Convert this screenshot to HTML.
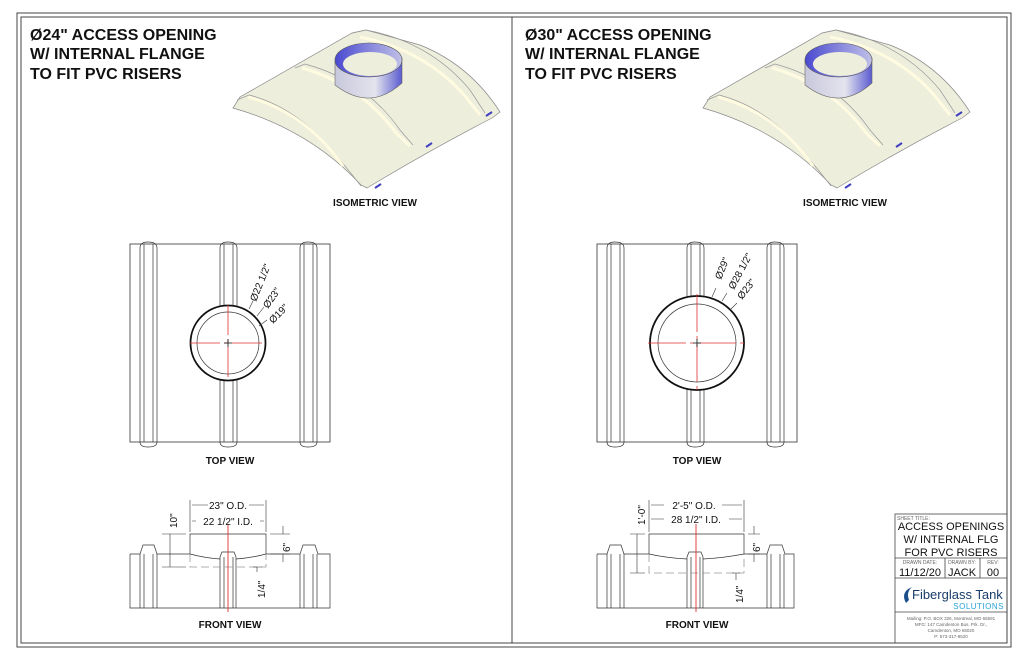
<!DOCTYPE html>
<html><head><meta charset="utf-8"><style>
html,body{margin:0;padding:0;background:#fff}
svg{display:block}
text{font-family:"Liberation Sans",Arial,sans-serif}
</style></head><body>
<svg width="1024" height="663" viewBox="0 0 1024 663" xmlns="http://www.w3.org/2000/svg">
<defs>
<linearGradient id="cyl" x1="0" x2="1" y1="0" y2="0">
<stop offset="0" stop-color="#c8c8dc"/><stop offset="0.6" stop-color="#e4e4ee"/><stop offset="1" stop-color="#5a5ad0"/>
</linearGradient>
<linearGradient id="cylin" x1="0" x2="1"><stop offset="0" stop-color="#4a4ad0"/><stop offset="1" stop-color="#c0c0e8"/></linearGradient>
<g id="iso">
<path d="M233,108 L240,97 L352,33 L366,30 L420,45 Q470,65 500,112 L492,118 Q430,150 367,188 L361,185 Q310,130 233,108 Z" fill="#eeeedd" stroke="#888" stroke-width="0.7"/>
<path d="M237,100 L249,95 Q300,108 340,160 Q350,172 361,186" fill="none" stroke="#999" stroke-width="0.7"/>
<path d="M248,97 Q305,112 343,166" fill="none" stroke="#fffbe0" stroke-width="3"/>
<path d="M295,68 L305,64 Q365,80 400,130 L413,145" fill="none" stroke="#999" stroke-width="0.7"/>
<path d="M302,68 Q360,84 397,134 L410,146" fill="none" stroke="#fffbe0" stroke-width="3"/>
<path d="M352,33 L366,30 Q430,42 470,90 L485,113" fill="none" stroke="#999" stroke-width="0.7"/>
<path d="M360,37 Q425,50 465,96 L480,115" fill="none" stroke="#fffbe0" stroke-width="3"/>
<path d="M335,60 L335,85 Q370,112 402,83 L402,58 Z" fill="url(#cyl)" stroke="#666" stroke-width="0.6"/>
<ellipse cx="368.5" cy="60" rx="33.5" ry="17" fill="url(#cylin)" stroke="#555" stroke-width="0.6"/>
<ellipse cx="370" cy="64" rx="27" ry="12" fill="#eeeedd"/>
<path d="M375,188 l6,-4 M426,147 l6,-4 M486,116 l6,-4" stroke="#4040c0" stroke-width="2"/>
</g>
<g id="top">
<rect x="130" y="244" width="200" height="198" fill="none" stroke="#333" stroke-width="0.8"/>
<g fill="none" stroke="#333" stroke-width="0.7">
<path d="M140,442 V248 Q140,242 148,242 Q157,242 157,248 V442 M144,244 V442 M153,244 V442"/>
<path d="M220,442 V248 Q220,242 228,242 Q237,242 237,248 V442 M224,244 V442 M233,244 V442"/>
<path d="M300,442 V248 Q300,242 308,242 Q317,242 317,248 V442 M304,244 V442 M313,244 V442"/>
<path d="M140,442 Q140,447 148,447 Q157,447 157,442 M220,442 Q220,447 228,447 Q237,447 237,442 M300,442 Q300,447 308,447 Q317,447 317,442"/>
</g>
</g>
<g id="front">
<g fill="none" stroke="#333" stroke-width="0.7">
<path d="M130,554 V608 H330 V554 H318 L315,545 H303 L300,554 M130,554 H140 L143,545 H154 L157,554 H190"/>
<path d="M140,554 V608 M144,554 V608 M153,554 V608 M157,554 V608 M300,554 V608 M304,554 V608 M313,554 V608 M317,554 V608"/>
<path d="M220,608 V557 L222,552 H234 L236,557 V608 M224,557 V608 M233,557 V608"/>
<path d="M190,554 V534 H266 V554"/>
<path d="M190,554 Q205,558 220,559 M236,559 Q251,558 266,554 H300"/>
</g>
<path d="M190,554 V567 H266 V554" fill="none" stroke="#999" stroke-dasharray="8,4" stroke-width="0.8"/>
</g>
</defs>

<!-- frame -->
<rect x="17" y="13" width="994" height="634" fill="none" stroke="#444" stroke-width="1"/>
<rect x="21" y="17" width="986" height="626" fill="none" stroke="#444" stroke-width="1"/>
<line x1="512" y1="17" x2="512" y2="643" stroke="#444" stroke-width="1"/>

<!-- titles -->
<g font-weight="bold" font-size="16" fill="#111">
<text x="30" y="40">Ø24" ACCESS OPENING</text>
<text x="30" y="59">W/ INTERNAL FLANGE</text>
<text x="30" y="79">TO FIT PVC RISERS</text>
<text x="525" y="40">Ø30" ACCESS OPENING</text>
<text x="525" y="59">W/ INTERNAL FLANGE</text>
<text x="525" y="79">TO FIT PVC RISERS</text>
</g>
<g font-weight="bold" font-size="10" fill="#111" text-anchor="middle">
<text x="375" y="206">ISOMETRIC VIEW</text>
<text x="845" y="206">ISOMETRIC VIEW</text>
<text x="230" y="464">TOP VIEW</text>
<text x="697" y="464">TOP VIEW</text>
<text x="230" y="628">FRONT VIEW</text>
<text x="697" y="628">FRONT VIEW</text>
</g>

<use href="#iso"/>
<use href="#iso" transform="translate(470,0)"/>

<!-- LEFT top view -->
<use href="#top"/>
<circle cx="228" cy="343" r="37.5" fill="#fff" stroke="#111" stroke-width="1.8"/>
<circle cx="228" cy="343" r="31" fill="none" stroke="#333" stroke-width="0.7"/>
<path d="M190,343 H266 M228,305 V381" stroke="#e03030" stroke-width="0.8" stroke-dasharray="30,4,4,4"/>
<path d="M224,343 h8 M228,339 v8" stroke="#111" stroke-width="0.8"/>
<path d="M249,309 l4,-8 M257,316 l7,-9 M259,326 l8,-6" stroke="#333" stroke-width="0.6"/>
<g font-size="10" fill="#111">
<text transform="translate(256,302) rotate(-68)">Ø22 1/2"</text>
<text transform="translate(268,309) rotate(-55)">Ø23"</text>
<text transform="translate(273,324) rotate(-45)">Ø19"</text>
</g>

<!-- RIGHT top view -->
<use href="#top" transform="translate(467,0)"/>
<circle cx="697" cy="343" r="47" fill="#fff" stroke="#111" stroke-width="1.8"/>
<circle cx="697" cy="343" r="39" fill="none" stroke="#333" stroke-width="0.7"/>
<path d="M648,343 H746 M697,294 V392" stroke="#e03030" stroke-width="0.8" stroke-dasharray="38,4,4,4"/>
<path d="M693,343 h8 M697,339 v8" stroke="#111" stroke-width="0.8"/>
<path d="M712,297 l4,-9 M722,301 l5,-8 M730,310 l7,-7" stroke="#333" stroke-width="0.6"/>
<g font-size="10" fill="#111">
<text transform="translate(721,280) rotate(-68)">Ø29"</text>
<text transform="translate(734,290) rotate(-62)">Ø28 1/2"</text>
<text transform="translate(742,300) rotate(-52)">Ø23"</text>
</g>

<!-- LEFT front view -->
<use href="#front"/>
<line x1="228" y1="524" x2="228" y2="612" stroke="#e03030" stroke-width="0.9"/>
<g stroke="#333" stroke-width="0.6" fill="none">
<path d="M190,500 V532 M266,500 V532 M192,505 H208 M249,505 H264 M192,521 H196 M260,521 H264"/>
<path d="M162,534 H186 M162,567 H186 M170,534 V567 M270,534 H290 M270,554 H290 M283,526 V534 M283,554 V562 M257,567 V572 M253,567 H262"/>
</g>
<g font-size="10" fill="#111">
<text x="228" y="509" text-anchor="middle">23" O.D.</text>
<text x="228" y="525" text-anchor="middle">22 1/2" I.D.</text>
<text transform="translate(177,528) rotate(-90)">10"</text>
<text transform="translate(290,552) rotate(-90)">6"</text>
<text transform="translate(265,598) rotate(-90)">1/4"</text>
</g>

<!-- RIGHT front view -->
<g transform="translate(467,0)">
<g fill="none" stroke="#333" stroke-width="0.7">
<path d="M130,554 V608 H327 V554 H318 L315,545 H303 L300,554 M130,554 H140 L143,545 H154 L157,554 H182"/>
<path d="M140,554 V608 M144,554 V608 M153,554 V608 M157,554 V608 M300,554 V608 M304,554 V608 M313,554 V608 M317,554 V608"/>
<path d="M220,608 V557 L222,552 H234 L236,557 V608 M224,557 V608 M233,557 V608"/>
<path d="M182,554 V534 H277 V554"/>
<path d="M182,554 Q200,558 220,559 M236,559 Q256,558 277,554 H300"/>
</g>
<path d="M182,554 V573 H277 V554" fill="none" stroke="#999" stroke-dasharray="8,4" stroke-width="0.8"/>
</g>
<line x1="696" y1="524" x2="696" y2="612" stroke="#e03030" stroke-width="0.9"/>
<g stroke="#333" stroke-width="0.6" fill="none">
<path d="M649,500 V532 M744,500 V532 M651,505 H664 M722,505 H742 M651,519 H664 M729,519 H742"/>
<path d="M630,534 H645 M630,573 H645 M637,534 V573 M748,534 H760 M748,554 H760 M754,526 V534 M754,554 V562 M736,573 V580 M732,573 H740"/>
</g>
<g font-size="10" fill="#111">
<text x="694" y="509" text-anchor="middle">2'-5" O.D.</text>
<text x="696" y="523" text-anchor="middle">28 1/2" I.D.</text>
<text transform="translate(645,525) rotate(-90)">1'-0"</text>
<text transform="translate(760,552) rotate(-90)">6"</text>
<text transform="translate(743,603) rotate(-90)">1/4"</text>
</g>

<!-- title block -->
<g fill="none" stroke="#444" stroke-width="0.8">
<rect x="895" y="514" width="112" height="129"/>
<line x1="895" y1="558" x2="1007" y2="558"/>
<line x1="895" y1="578" x2="1007" y2="578"/>
<line x1="895" y1="612" x2="1007" y2="612"/>
<line x1="945" y1="558" x2="945" y2="578"/>
<line x1="980" y1="558" x2="980" y2="578"/>
</g>
<g fill="#111">
<text x="897" y="520" font-size="5" fill="#666">SHEET TITLE:</text>
<text x="951" y="530" font-size="11" text-anchor="middle">ACCESS OPENINGS</text>
<text x="951" y="543" font-size="11" text-anchor="middle">W/ INTERNAL FLG</text>
<text x="951" y="556" font-size="11" text-anchor="middle">FOR PVC RISERS</text>
<text x="920" y="564" font-size="5" fill="#666" text-anchor="middle">DRAWN DATE:</text>
<text x="962" y="564" font-size="5" fill="#666" text-anchor="middle">DRAWN BY:</text>
<text x="993" y="564" font-size="5" fill="#666" text-anchor="middle">REV:</text>
<text x="920" y="576" font-size="11" text-anchor="middle">11/12/20</text>
<text x="962" y="576" font-size="11" text-anchor="middle">JACK</text>
<text x="993" y="576" font-size="11" text-anchor="middle">00</text>
<path d="M906,603 Q900,592 912,587 Q906,592 909,600 Z" fill="#1a4f8a"/>
<text x="912" y="599" font-size="13" font-family="Liberation Serif,serif" fill="#1a3d6b">Fiberglass Tank</text>
<text x="1004" y="609" font-size="8" fill="#29a3d8" text-anchor="end" letter-spacing="0.5">SOLUTIONS</text>
<g font-size="4.5" fill="#666" text-anchor="middle">
<text x="951" y="620">Mailing: P.O. BOX 326, Montreal, MO 65591</text>
<text x="951" y="626">MFG: 147 Camdenton Bus. Prk. Dr.,</text>
<text x="951" y="632">Camdenton, MO 65020</text>
<text x="951" y="638">P: 573-317-9520</text>
</g>
</g>
</svg>
</body></html>
